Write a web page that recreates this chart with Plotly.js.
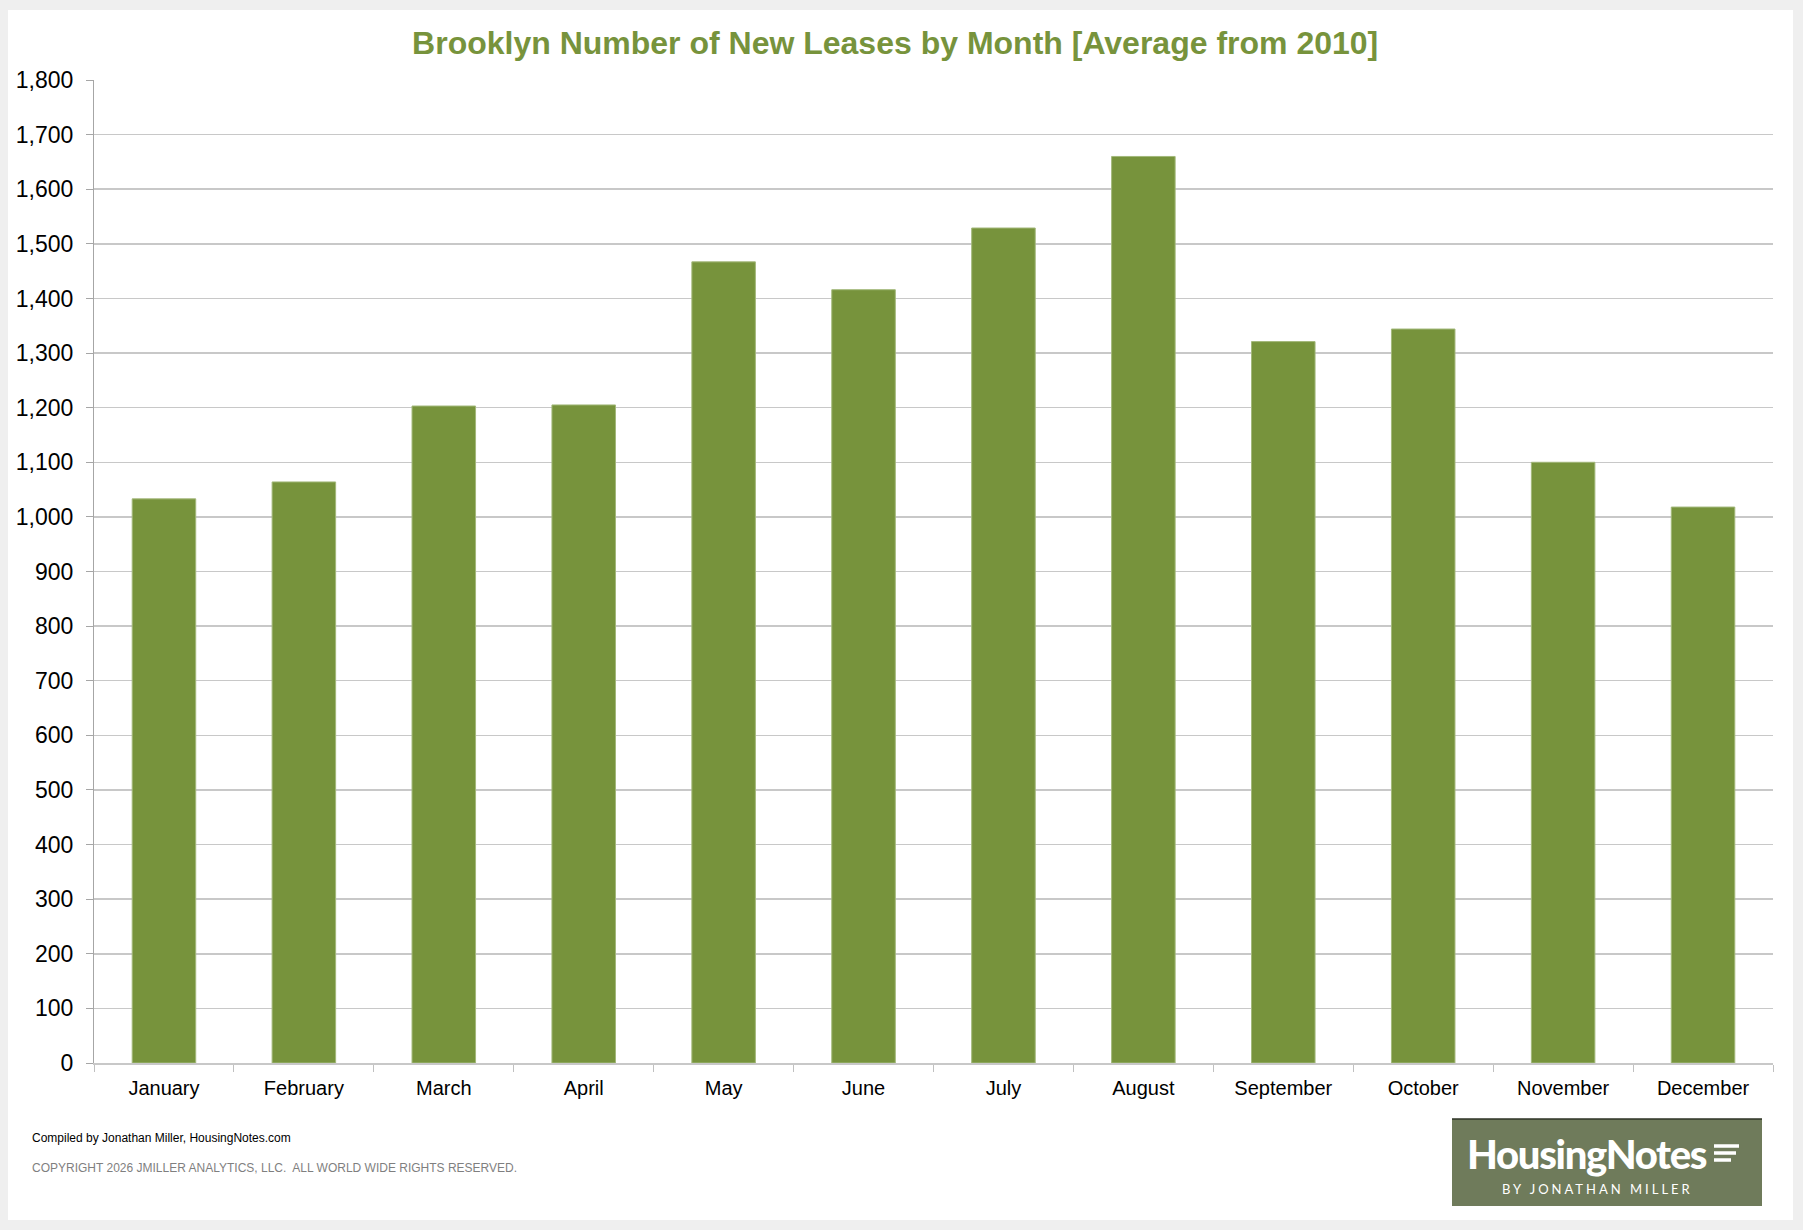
<!DOCTYPE html>
<html>
<head>
<meta charset="utf-8">
<script src="https://cdn.plot.ly/plotly-3.0.1.min.js"></script>
<style>
  html, body { margin: 0; padding: 0; background: #efefef; }
  #chart { position: absolute; left: 8px; top: 10px; width: 1785px; height: 1210px; background: #fff; }
  .annotation[data-index="2"] text { letter-spacing: -1.3px; }
  .annotation[data-index="3"] text { letter-spacing: 3px; }
</style>
</head>
<body>
<div id="chart"></div>
<script>
const months = ['January', 'February', 'March', 'April', 'May', 'June', 'July', 'August',
  'September', 'October', 'November', 'December']
const leases = [1033, 1064, 1203, 1205, 1467, 1416, 1529, 1660, 1321, 1344, 1100, 1018]
const yTicks = [0, 100, 200, 300, 400, 500, 600, 700, 800, 900, 1000, 1100, 1200, 1300, 1400, 1500, 1600, 1700, 1800]

const green = '#77933c'
const font = 'Liberation Sans, Arial, sans-serif'

// plot area in page pixels, used to place footer items in paper coords
const plotL = 94
const plotR = 1773
const plotT = 80
const plotB = 1063
const px = (x) => (x - plotL) / (plotR - plotL)
const py = (y) => (plotB - y) / (plotB - plotT)

const trace = {
  x: months,
  y: leases,
  type: 'bar',
  marker: { color: green, line: { color: '#a3b87a', width: 1 } },
  hoverinfo: 'x+y'
}

const layout = {
  width: 1785,
  height: 1210,
  margin: { l: plotL - 8, r: 1793 - plotR, t: plotT - 10, b: 1220 - plotB },
  paper_bgcolor: '#fff',
  plot_bgcolor: '#fff',
  bargap: 0.546,
  showlegend: false,
  title: {
    text: 'Brooklyn Number of New Leases by Month [Average from 2010]',
    font: { family: font, size: 32, color: green, weight: 'bold' },
    xref: 'container',
    yref: 'container',
    x: 0.497,
    y: 1 - 33 / 1210,
    xanchor: 'center',
    yanchor: 'middle'
  },
  xaxis: {
    type: 'category',
    showline: true,
    linecolor: '#c8c8c8',
    linewidth: 2,
    ticks: 'outside',
    tickson: 'boundaries',
    ticklen: 7,
    tickcolor: '#c0c0c0',
    tickwidth: 1,
    ticklabelstandoff: 6,
    showgrid: false,
    tickfont: { family: font, size: 20, color: '#000' }
  },
  yaxis: {
    range: [0, 1800],
    tickvals: yTicks,
    tickformat: ',d',
    showline: true,
    linecolor: '#a6a6a6',
    linewidth: 1,
    ticks: 'outside',
    ticklen: 7,
    tickcolor: '#a6a6a6',
    ticklabelstandoff: 8,
    showgrid: true,
    gridcolor: '#c8c8c8',
    gridwidth: 1.5,
    zeroline: false,
    tickfont: { family: font, size: 23, color: '#000' }
  },
  shapes: [
    // logo box
    { type: 'rect', xref: 'paper', yref: 'paper', x0: px(1452), x1: px(1762), y0: py(1206), y1: py(1119), fillcolor: '#6f7b5b', line: { width: 0 }, layer: 'above' },
    { type: 'line', xref: 'paper', yref: 'paper', x0: px(1452), x1: px(1762), y0: py(1119), y1: py(1119), line: { color: '#2e3326', width: 1.5 } },
    // the three bars next to the logo word
    { type: 'line', xref: 'paper', yref: 'paper', x0: px(1714), x1: px(1739), y0: py(1146), y1: py(1146), line: { color: '#fff', width: 3.5 } },
    { type: 'line', xref: 'paper', yref: 'paper', x0: px(1714), x1: px(1736), y0: py(1153), y1: py(1153), line: { color: '#fff', width: 3.5 } },
    { type: 'line', xref: 'paper', yref: 'paper', x0: px(1714), x1: px(1731), y0: py(1160), y1: py(1160), line: { color: '#fff', width: 3.5 } }
  ],
  annotations: [
    { text: 'Compiled by Jonathan Miller, HousingNotes.com', xref: 'paper', yref: 'paper', x: px(30), y: py(1138), xanchor: 'left', yanchor: 'middle', align: 'left', showarrow: false, font: { family: font, size: 12, color: '#000' } },
    { text: 'COPYRIGHT 2026 JMILLER ANALYTICS, LLC.  ALL WORLD WIDE RIGHTS RESERVED.', xref: 'paper', yref: 'paper', x: px(30), y: py(1168), xanchor: 'left', yanchor: 'middle', align: 'left', showarrow: false, font: { family: font, size: 12, color: '#7f7f7f' } },
    { text: 'HousingNotes', xref: 'paper', yref: 'paper', x: px(1465), y: py(1154), xanchor: 'left', yanchor: 'middle', align: 'left', showarrow: false, font: { family: 'Lato, Inter, sans-serif', size: 40, color: '#fff', weight: 900 } },
    { text: 'BY JONATHAN MILLER', xref: 'paper', yref: 'paper', x: px(1500), y: py(1189), xanchor: 'left', yanchor: 'middle', align: 'left', showarrow: false, font: { family: 'Lato, Inter, sans-serif', size: 13, color: '#fff' } }
  ]
}

Plotly.newPlot('chart', [trace], layout, { displayModeBar: false, staticPlot: true })
</script>
</body>
</html>
